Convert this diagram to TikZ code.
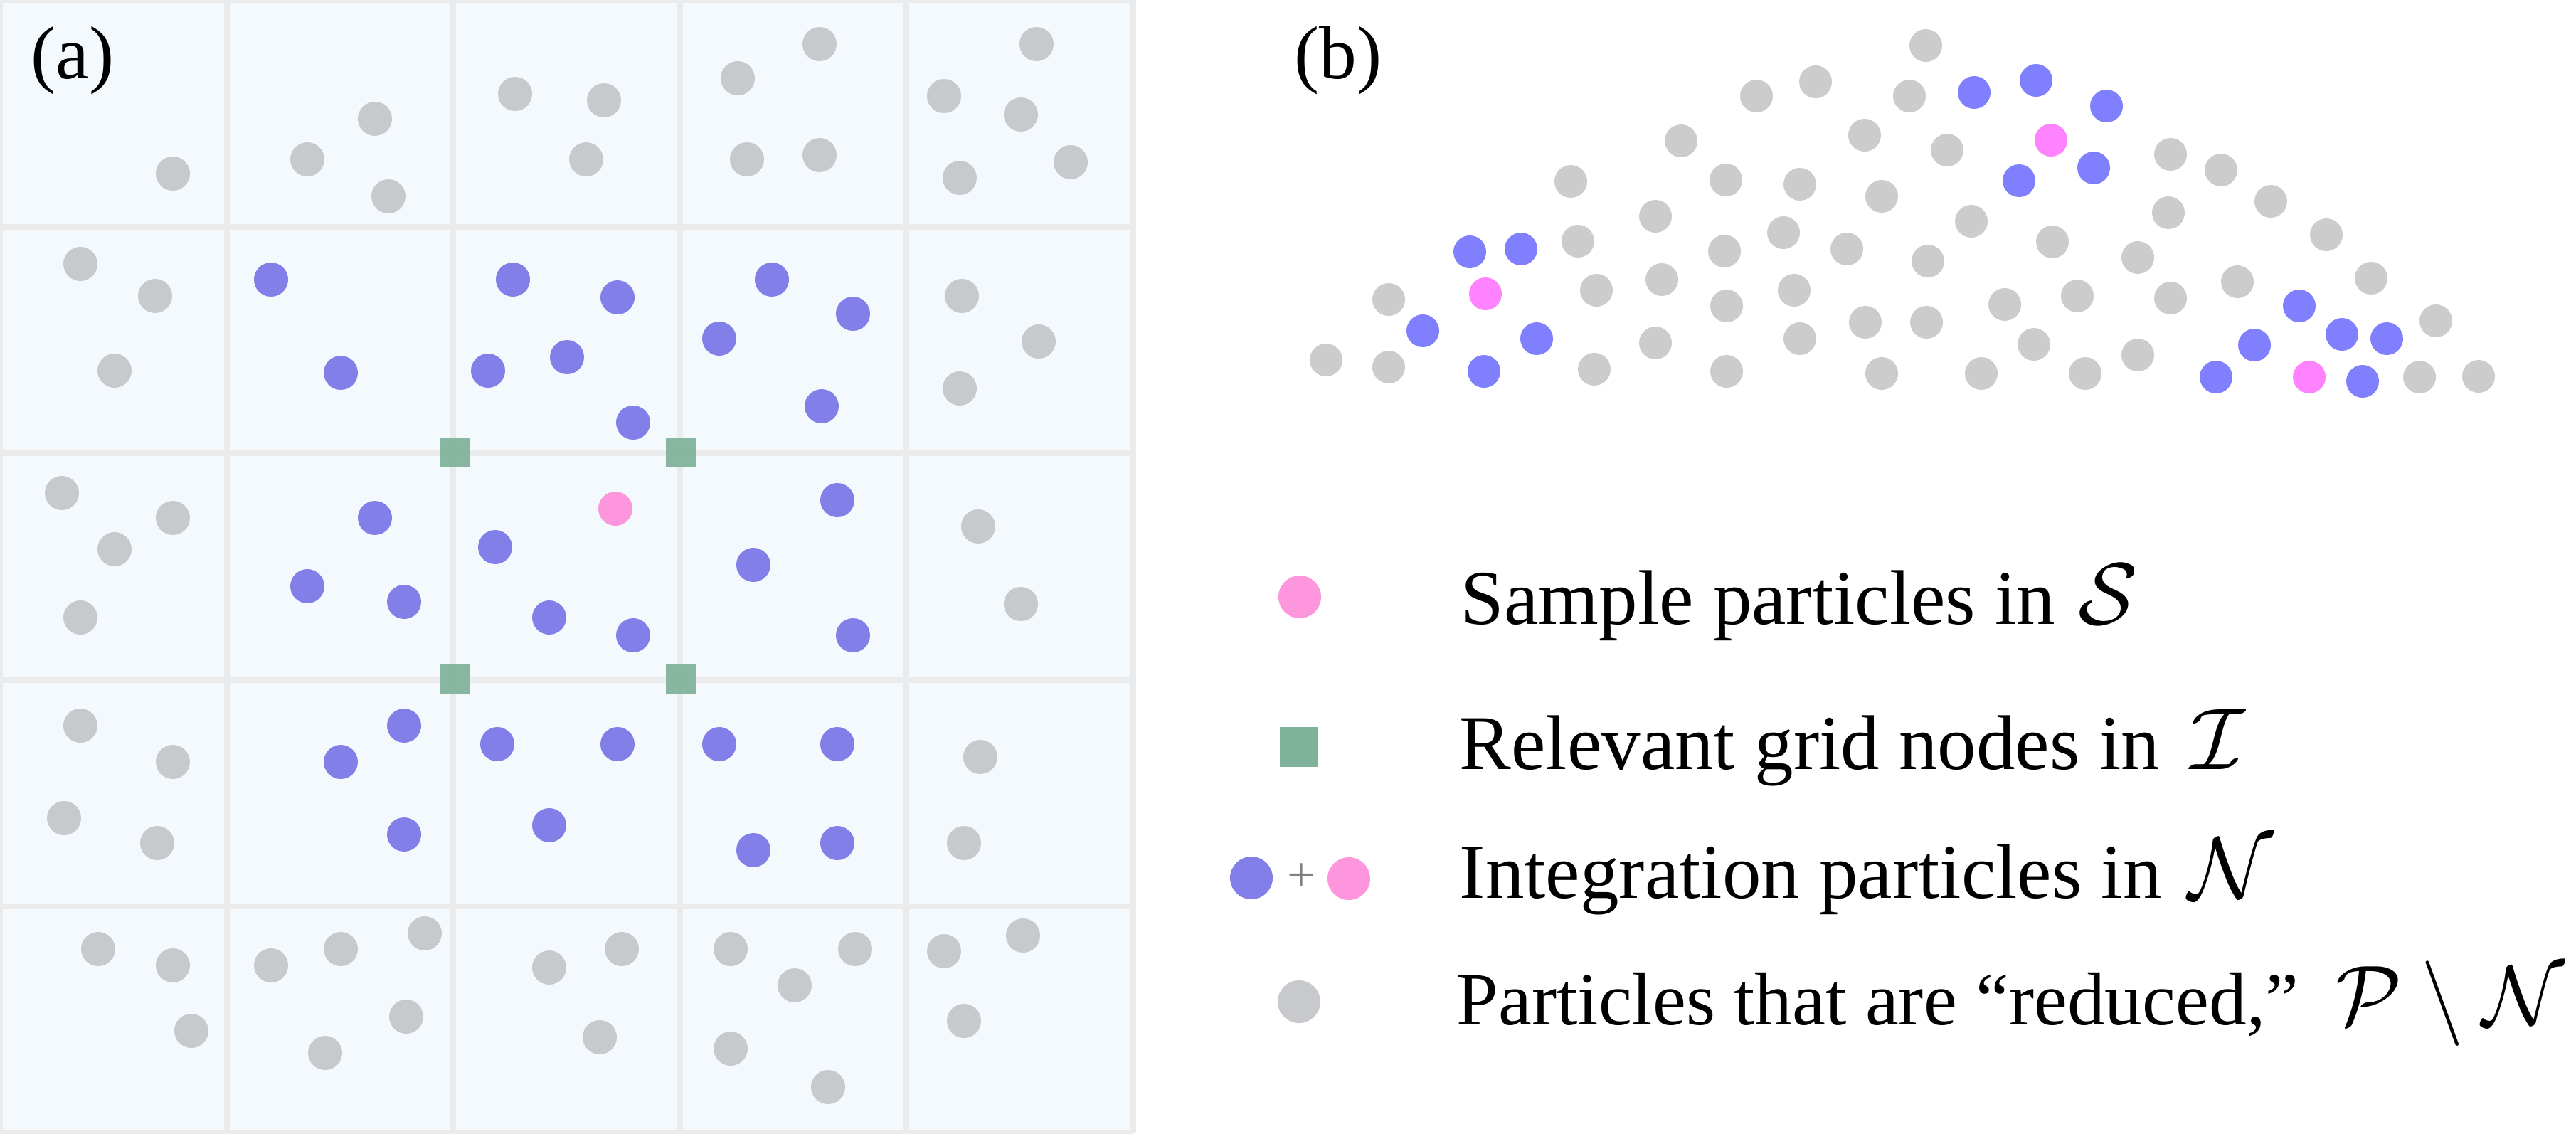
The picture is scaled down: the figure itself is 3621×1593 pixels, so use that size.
\RequirePackage{fix-cm}
\documentclass[tikz,border=0pt]{standalone}
\usepackage{fontspec}
\setmainfont{Liberation Serif}
\definecolor{gridbg}{RGB}{244,249,253}
\definecolor{gridln}{RGB}{235,235,235}
\definecolor{lgray}{RGB}{200,201,204}
\definecolor{lblue}{RGB}{130,128,232}
\definecolor{lpink}{RGB}{253,150,220}
\definecolor{lgreen}{RGB}{126,178,154}
\definecolor{rgray}{RGB}{204,204,204}
\definecolor{rblue}{RGB}{128,128,255}
\definecolor{rpink}{RGB}{255,130,255}
\newcommand{\mcal}[1]{{\fontsize{35}{40}\selectfont$#1$}}
\newcommand{\mcalb}[1]{{\fontsize{34}{40}\selectfont$#1$}}
\tikzset{
  gridline/.style={draw=gridln, line width=0.08cm},
  legtext/.style={anchor=base west, inner sep=0pt, font=\fontsize{31}{36}\selectfont},
  paneltag/.style={anchor=base west, inner sep=0pt, font=\fontsize{30}{36}\selectfont},
  gnode/.style={fill=lgreen, fill opacity=0.92}
}
\begin{document}
\begin{tikzpicture}[x=0.01cm,y=-0.01cm]
\useasboundingbox (0,0) rectangle (3621,1593);
\fill[white] (0,0) rectangle (3621,1593);
% ---------- panel (a) ----------
\fill[gridbg] (0,0) rectangle (1593,1593);
\foreach \i in {0,...,5} {
  \draw[gridline] ({\i*318.6},0) -- ({\i*318.6},1593);
  \draw[gridline] (0,{\i*318.6}) -- (1593,{\i*318.6});
}
\foreach \p in {(243,244),(432,224),(527,167),(546,276),(724,132),(849,141),(824,224),
  (1037,110),(1152,62),(1050,224),(1152,218),(1327,135),(1457,62),(1435,161),(1349,250),(1505,228),
  (113,371),(218,416),(161,521),(1352,416),(1460,480),(1349,546),
  (87,693),(243,728),(161,772),(113,868),(1375,740),(1435,849),
  (113,1020),(243,1071),(90,1150),(221,1185),(1378,1064),(1355,1185),
  (138,1334),(243,1357),(269,1449),(381,1357),(479,1334),(597,1312),(571,1429),(457,1480),
  (772,1360),(874,1334),(843,1458),(1027,1334),(1202,1334),(1117,1385),(1027,1474),(1164,1528),
  (1327,1337),(1438,1315),(1355,1435)}
  \fill[lgray] \p circle[radius=24];
\foreach \p in {(381,393),(479,524),(721,393),(686,521),(797,502),(868,418),(890,594),
  (1085,393),(1199,441),(1011,476),(1155,571),
  (527,728),(432,824),(568,846),(696,769),(772,868),(890,893),(1177,703),(1059,794),(1199,893),
  (568,1020),(479,1071),(568,1173),(699,1046),(868,1046),(772,1160),
  (1011,1046),(1177,1046),(1059,1195),(1177,1185)}
  \fill[lblue] \p circle[radius=24];
\fill[lpink] (865,715) circle[radius=24];
\foreach \p in {(639,636),(957,636),(639,954),(957,954)}
  \fill[gnode] \p ++(-21,-21) rectangle ++(42,42);
\node[paneltag] (taga) at (43,110) {(a)};
% ---------- panel (b) ----------
\node[paneltag] (tagb) at (1819,110) {(b)};
\foreach \p in {(2469,135),(2552,115),(2363,198),(2621,190),(2208,255),(2426,253),(2530,259),(2645,276),
  (2327,304),(2507,327),(2218,339),(2424,353),(2596,350),(2244,408),(2336,393),(2522,408),(2427,430),
  (1952,421),(2327,482),(2530,476),(2622,453),(1864,506),(1952,516),(2241,519),(2427,522),(2645,525),
  (2707,64),(2684,135),(2737,211),(3051,217),(3122,239),(3192,283),(3270,330),(3048,299),(2771,311),
  (2885,340),(3005,362),(2710,367),(3145,396),(3333,391),(2818,428),(2920,416),(3051,419),(2708,453),
  (2859,484),(3005,499),(3424,451),(2785,525),(2931,525),(3401,530),(3484,529)}
  \fill[rgray] \p circle[radius=23];
\foreach \p in {(2066,354),(2138,350),(2000,465),(2160,476),(2086,522),(2775,130),(2862,113),(2961,149),
  (2838,254),(2943,236),(3232,430),(3169,485),(3292,470),(3355,476),(3115,530),(3321,536)}
  \fill[rblue] \p circle[radius=23];
\foreach \p in {(2088,413),(2883,197),(3246,530)}
  \fill[rpink] \p circle[radius=23];
% ---------- legend ----------
\fill[lpink] (1827,839) circle[radius=30];
\fill[lgreen] (1799,1022) rectangle (1853,1078);
\fill[lblue] (1759,1234) circle[radius=30];
\node[inner sep=0pt, text=gray, font=\fontsize{20}{24}\selectfont] (plus) at (1829,1234) {+};
\fill[lpink] (1896,1235) circle[radius=30];
\fill[lgray] (1826,1408) circle[radius=30];
\node[legtext] (l1) at (2053,877) {Sample particles in\hspace{0.3em}\mcal{\mathcal{S}}};
\node[legtext] (l2) at (2051,1081) {Relevant grid nodes in\hspace{0.4em}\mcal{\mathcal{I}}};
\node[legtext] (l3) at (2051,1262) {Integration particles in\hspace{0.35em}\mcal{\mathcal{N}}};
\node[legtext, font=\fontsize{30}{36}\selectfont] (l4) at (2047,1440) {Particles that are “reduced,”\hspace{0.5em}\mcalb{\mathcal{P}\setminus\mathcal{N}}};
\end{tikzpicture}
\end{document}
